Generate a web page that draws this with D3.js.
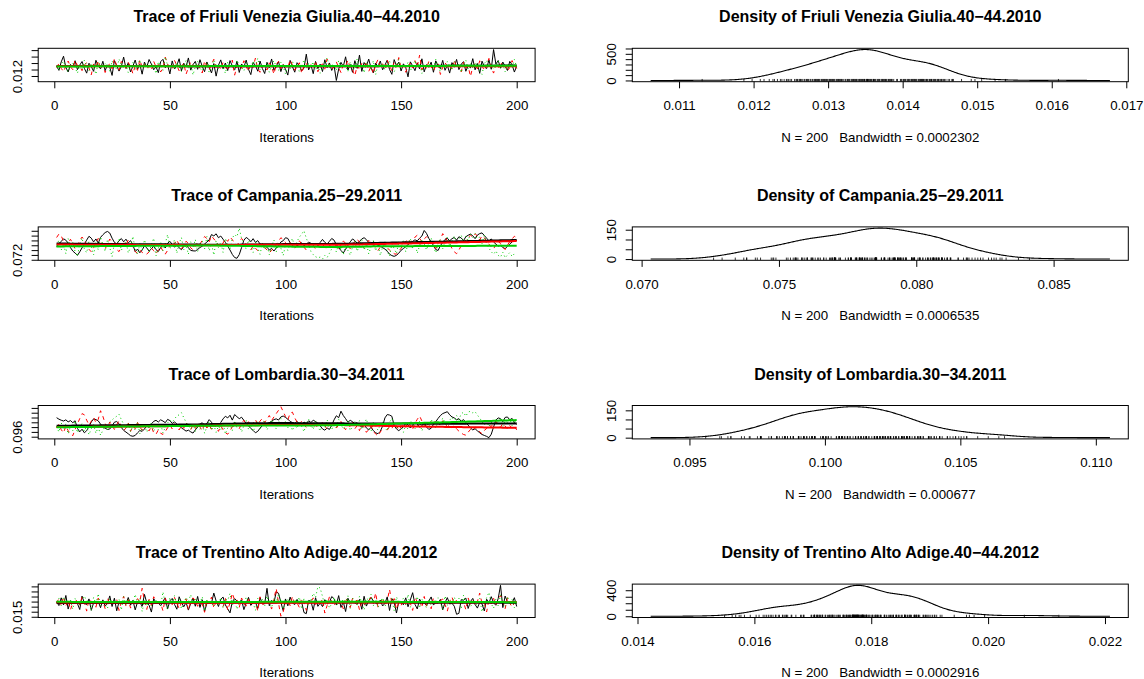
<!DOCTYPE html>
<html>
<head>
<meta charset="utf-8">
<script src="https://cdn.jsdelivr.net/npm/d3@7"></script>
<style>
  html, body { margin: 0; padding: 0; background: #ffffff; }
  svg { display: block; font-family: "Liberation Sans", Arial, Helvetica, sans-serif; }
</style>
</head>
<body>
<svg id="chart" width="1144" height="679"></svg>
<script>
// ---------------------------------------------------------------------------
// MCMC output: three chains of 200 iterations for each parameter.
// Chain values are stored in units of 1e-5.
// ---------------------------------------------------------------------------
const valueUnit = 1e-5;

const parameterNames = [
  "Friuli Venezia Giulia.40\u221244.2010",
  "Campania.25\u221229.2011",
  "Lombardia.30\u221234.2011",
  "Trentino Alto Adige.40\u221244.2012"
];

// Kernel bandwidths used for the density panels
const bandwidths = [0.0002302, 0.0006535, 0.000677, 0.0002916];

const friuliChain1 = [
1352,1287,1418,1506,1331,1263,1379,1341,1436,1298,
1368,1424,1319,1244,1397,1346,1272,1443,1357,1311,
1428,1283,1372,1335,1209,1439,1361,1276,1348,1492,
1317,1404,1262,1353,1447,1306,1381,1228,1415,1339,
1455,1384,1297,1342,1251,1421,1458,1326,1373,1232,
1433,1308,1364,1467,1279,1398,1343,1479,1291,1375,
1426,1303,1452,1349,1266,1417,1333,1247,1392,1198,
1366,1449,1312,1401,1284,1438,1355,1293,1427,1255,
1386,1337,1446,1302,1221,1409,1362,1274,1431,1316,
1238,1412,1328,1463,1289,1351,1423,1268,1377,1305,
1214,1441,1344,1259,1406,1358,1281,1323,1538,1294,
1371,1236,1425,1314,1383,1269,1451,1329,1402,1286,
1363,1131,1307,1411,1347,1497,1292,1378,1257,1437,
1318,1524,1271,1408,1354,1461,1324,1249,1399,1338,
1432,1296,1369,1444,1301,1226,1453,1359,1413,1277,
1388,1332,1187,1419,1356,1282,1403,1309,1466,1264,
1376,1334,1414,1258,1434,1352,1313,1442,1288,1367,
1245,1407,1336,1456,1299,1382,1422,1273,1361,1327,
1468,1295,1393,1241,1429,1345,1315,1448,1304,1609,
1385,1439,1321,1416,1349,1285,1426,1374,1261,1353];

const friuliChain2 = [
1334,1392,1318,1267,1356,1431,1341,1298,1447,1362,
1349,1283,1372,1403,1327,1218,1386,1345,1438,1309,
1366,1254,1337,1395,1312,1469,1351,1291,1425,1374,
1322,1408,1343,1236,1359,1287,1452,1331,1382,1304,
1353,1294,1427,1340,1378,1263,1316,1491,1384,1335,
1305,1441,1361,1279,1347,1397,1228,1329,1416,1368,
1342,1385,1317,1246,1433,1358,1296,1376,1459,1325,
1371,1302,1413,1338,1284,1364,1445,1213,1352,1391,
1319,1436,1346,1273,1389,1333,1478,1308,1257,1363,
1357,1292,1404,1344,1229,1379,1426,1315,1383,1339,
1326,1451,1368,1289,1348,1405,1241,1360,1394,1311,
1373,1321,1432,1266,1354,1387,1306,1464,1336,1299,
1345,1418,1328,1252,1381,1362,1443,1314,1296,1205,
1359,1301,1393,1337,1424,1271,1350,1234,1377,1454,
1332,1389,1307,1446,1364,1282,1412,1343,1485,1320,
1367,1258,1355,1399,1323,1437,1341,1522,1293,1375,
1313,1428,1346,1277,1361,1390,1224,1334,1406,1352,
1380,1297,1448,1338,1369,1262,1415,1327,1354,1193,
1342,1397,1310,1435,1357,1286,1366,1472,1329,1245,
1363,1304,1421,1348,1383,1274,1331,1439,1356,1317];

const friuliChain3 = [
1348,1296,1375,1429,1322,1261,1359,1401,1334,1242,
1366,1311,1443,1352,1284,1388,1339,1227,1417,1370,
1327,1395,1357,1274,1434,1344,1306,1462,1381,1319,
1362,1251,1338,1409,1299,1373,1448,1326,1391,1346,
1314,1385,1354,1236,1422,1341,1289,1496,1368,1330,
1377,1302,1411,1345,1268,1358,1439,1321,1392,1217,
1343,1427,1318,1281,1364,1398,1255,1336,1451,1372,
1308,1386,1350,1240,1414,1329,1367,1293,1445,1355,
1339,1276,1403,1361,1316,1432,1349,1474,1297,1378,
1324,1393,1257,1368,1436,1342,1288,1412,1353,1231,
1371,1305,1425,1337,1383,1264,1356,1449,1313,1396,
1347,1419,1291,1365,1243,1335,1407,1481,1328,1374,
1359,1285,1440,1320,1389,1352,1270,1416,1340,1301,
1466,1333,1379,1248,1408,1362,1310,1437,1221,1387,
1344,1398,1294,1370,1430,1327,1262,1357,1453,1315,
1380,1323,1415,1278,1351,1442,1336,1394,1239,1366,
1332,1404,1360,1292,1458,1346,1269,1376,1318,1423,
1354,1290,1428,1341,1385,1252,1369,1446,1307,1399,
1325,1410,1364,1280,1226,1391,1441,1345,1373,1303,
1349,1433,1316,1383,1265,1361,1402,1330,1455,1338];

const campaniaChain1 = [
7724,7853,7962,8067,8011,7886,7703,7561,7478,7382,
7527,7694,7848,8013,8172,8094,7938,8061,7883,8126,
8234,8327,8372,8305,8093,7921,7856,7984,8079,7943,
8052,7897,7991,7817,7533,7645,7489,7602,7781,7693,
7558,7651,7764,7617,7542,7706,7812,7688,7884,7963,
7831,7722,7805,7694,7618,7753,7842,7701,7587,7569,
7563,7624,7707,7761,7853,7932,8024,8243,8187,8274,
8113,8182,8051,7918,7762,7604,7421,7293,7262,7414,
7703,8006,8124,8058,7947,8073,7916,7993,7852,7801,
7784,7718,7603,7672,7561,7684,7793,7934,7987,8112,
8083,7902,7797,7853,7781,7836,7904,7778,7852,7923,
7884,7812,7873,7792,7918,8043,7921,7854,7963,8081,
8014,7823,7702,7583,7481,7632,7794,7941,8063,7992,
7883,7954,8062,8113,8034,7912,7853,7952,7873,7804,
7762,7703,7641,7552,7433,7372,7341,7383,7472,7594,
7663,7742,7821,7903,7962,8024,7983,8092,8184,8412,
8291,8083,7942,7793,7622,7583,7782,7923,8041,8094,
7983,8072,8124,8013,8152,8103,7992,8153,8214,8263,
8192,8073,8224,8283,8312,8203,8094,7983,8062,7934,
7853,7762,7803,7704,7663,7752,7853,7932,8043,7994];

const campaniaChain2 = [
8121,8263,8192,7964,7783,7902,8048,7861,7652,7791,
7993,8141,8012,7826,7634,7528,7706,7903,8083,7961,
7774,7652,7846,8057,7932,7813,7621,7537,7728,7904,
7832,8011,7883,7687,7541,7463,7592,7508,7442,7436,
7527,7681,7574,7451,7602,7743,7558,7433,7586,7762,
7938,7852,8026,7806,7653,7794,7967,7872,7694,7613,
7768,7922,7847,8004,8163,8072,7943,8184,8062,7951,
7824,7736,7893,8073,7962,8142,8034,7878,7806,7933,
8082,7981,7832,7714,7603,7772,7681,7576,7724,7863,
7712,7604,7497,7583,7742,7826,7973,8112,8041,7913,
7802,7921,7768,7674,7833,7984,7842,7721,7604,7773,
7906,7794,7643,7738,7892,7836,7726,7617,7762,7923,
7851,7753,7664,7812,7974,7887,7782,7654,7826,7962,
8053,7921,7806,7712,7858,8001,7906,7793,7684,7581,
7726,7884,7803,7702,7596,7518,7446,7432,7553,7678,
7842,7951,8062,7924,8013,8134,8217,8088,7946,8062,
8154,8043,7912,7786,7664,7871,8032,8282,8141,7978,
7836,7672,7531,7452,7603,7782,7906,8014,8127,8213,
8142,8276,8188,8023,8194,8112,7957,7846,7733,7652,
7824,7962,7871,7742,7623,7808,7946,8061,8173,8108];

const campaniaChain3 = [
7792,8013,7604,7866,7452,8074,7683,7921,7538,7344,
7847,8106,7652,7486,7973,7758,7402,7928,7611,8152,
7824,7543,8037,7701,7327,7893,7724,8083,7588,7806,
7962,7481,7742,8168,7636,7418,7872,7597,8024,7728,
7512,7836,8092,7364,7683,7947,7562,7868,8243,7674,
7761,8032,7473,7884,8121,7604,7812,7427,7942,7692,
8043,7542,7836,7983,7647,8162,7568,7873,7392,7991,
7712,7928,7503,8082,7782,7623,8098,8246,8152,8509,
8074,7891,7632,8012,7793,7502,7948,7684,7427,7882,
7614,7863,7412,7772,8021,7528,7917,7682,7373,7821,
7583,7852,8084,7697,7963,8136,8262,8402,8093,7846,
7542,7413,7328,7276,7312,7229,7384,7291,7468,7652,
7804,7521,7896,7628,7404,7838,7582,7387,7736,7962,
7548,7812,8046,7596,7884,7443,7752,8012,7563,7853,
7376,7724,7941,7557,7342,7862,7662,7452,7958,7711,
8004,7532,7826,8083,7654,7913,7468,7784,8052,7868,
7603,7908,8112,7742,7486,7893,8068,7652,7972,8142,
7764,7983,8186,7862,8047,8214,7936,8173,8002,8256,
8121,8283,7982,8156,7872,8218,7832,7682,7532,7426,
7568,7384,7306,7512,7283,7396,7497,7337,7452,7418];

const lombardiaChain1 = [
10392,10331,10287,10254,10303,10218,10272,10183,10264,9951,
9803,9912,9764,9852,10023,10214,10343,10312,10261,10124,
10013,9954,9902,9921,10053,10204,10232,10143,9984,9862,
9793,9721,9642,9618,9653,9762,9854,9823,9921,10064,
9993,10132,10241,10283,10212,10304,10253,10184,10322,10273,
10152,10213,10134,10062,9963,9904,9832,9873,9802,9751,
9884,9992,10123,10182,10083,10154,10312,10203,10042,10093,
10052,10194,10343,10452,10383,10494,10292,10524,10433,10352,
10412,10283,10152,10054,9943,9862,9764,9823,9953,10062,
10123,10084,10183,10242,10313,10344,10293,10424,10462,10403,
10333,10234,10192,10153,10243,10104,10063,10214,10143,10262,
10193,10284,10233,10162,10053,9924,9873,9962,9903,10072,
10302,10473,10392,10663,10483,10352,10203,10284,10223,10152,
10183,10074,10003,10114,9962,9883,9994,9852,9763,9724,
9822,10043,10384,10523,10503,10452,10064,9923,9852,9934,
10012,10163,10093,9962,10084,10203,10134,9993,10052,10173,
10004,9903,9952,10113,10224,10363,10482,10564,10603,10642,
10513,10424,10382,10303,10354,10243,10313,10192,10083,9964,
9883,9932,9843,9764,9692,9653,9612,9560,9703,10004,
10293,10384,10352,10223,10404,10423,10302,10363,10194,10113];

const lombardiaChain2 = [
9982,10123,9894,9763,10041,9852,9714,9643,9903,10132,
10354,10562,10513,10292,10093,10244,10403,10182,10324,10683,
10452,10153,9984,10213,10052,9903,10104,10263,10024,9862,
9953,10172,9823,10064,9932,10193,10003,9874,10112,9963,
9842,10024,9763,9702,9883,9743,9694,9812,9973,10092,
9923,10143,10012,9884,10063,9952,10184,10032,9893,10083,
9944,10113,10002,9853,10164,9962,10073,9913,10134,9983,
9824,10053,9892,9764,9703,9843,10014,10203,10082,9934,
10153,10284,10103,10224,10043,10172,10314,10093,10252,10363,
10194,10332,10483,10274,10423,10562,10703,10849,10652,10443,
10294,10583,10623,10384,10213,10092,10253,10134,9983,10124,
10043,10194,9942,10103,9984,10213,10064,9903,10152,10023,
10174,9963,10082,10234,10013,9892,10123,10004,10193,9932,
10063,9852,10114,9973,9782,9904,10043,9824,9713,9632,
9794,9943,10083,9872,10024,9933,10164,10053,9884,10012,
10133,9992,10214,10073,9914,10153,10324,10463,10254,10103,
9983,10124,10233,10092,10304,10183,10054,10263,10143,10012,
10114,9973,10063,9924,9832,9753,9692,9663,9784,9903,
9852,10003,9934,9803,9724,9863,9942,10083,10024,10173,
10243,10094,9993,10152,10043,9924,10063,9964,10032,9884];

const lombardiaChain3 = [
10024,9793,10183,9902,10132,9712,10043,9854,10264,9762,
9973,10154,9823,10073,9683,9934,10102,9743,10013,9664,
9863,10052,9893,10214,10303,10384,10453,10534,10312,10123,
9953,10143,9802,10064,9873,10194,9732,9962,10114,9784,
9983,10203,9833,10034,9894,10143,9752,9994,10174,10283,
10194,10343,10464,10513,10602,10393,10204,10053,9912,10132,
9823,10074,9904,10163,9744,10013,10233,9864,10092,9783,
10043,9882,10174,9712,9964,10123,9853,10262,9974,10153,
9793,10062,10284,9903,10113,9822,10034,10223,9932,10143,
10274,9883,10083,10312,10134,9924,10203,10354,10052,10243,
9963,10184,9852,10124,9943,10263,10023,9804,10164,10332,
10093,9903,10244,10024,9834,10154,9973,10303,10064,9882,
10183,9984,10323,10113,9914,10072,10254,9853,10043,10223,
10003,10274,9894,10123,10342,9963,9823,10184,10033,9873,
10094,10243,9983,9842,10204,10364,10083,9924,10183,10023,
9784,10102,9903,10273,10134,9932,10054,10244,9833,10114,
10213,10003,10324,10133,9954,10254,10073,10382,10184,9994,
10283,10422,10203,10483,10314,10552,10623,10453,10624,10663,
10594,10643,10503,10374,10233,10083,10264,10013,10204,10103,
10304,10153,10383,10024,10263,10194,10353,10064,10283,10172];

const trentinoChain1 = [
1796,1721,1874,1733,1921,1652,1817,1778,1769,1762,
1643,1908,1771,1738,1853,1627,1776,1784,1806,1679,
1834,1712,1759,1912,1703,1867,1618,1792,1803,1771,
1752,1881,1729,1823,1636,1791,1787,1707,1942,1777,
1729,1593,1857,1784,1776,1716,1808,1873,1654,1815,
1862,1744,1649,1895,1786,1697,1783,1632,1761,1866,
1708,1902,1685,1836,1608,1763,1765,1772,1968,1812,
1703,1846,1889,1733,1657,1577,1798,1859,1808,1791,
1831,1641,1769,1883,1725,1779,1792,1663,1878,1757,
1757,2062,1717,1823,1774,1994,1963,1786,1621,1852,
1716,1889,1774,1741,1843,1752,1788,1583,1562,1822,
1808,1629,1876,1706,1772,1701,1838,1767,1785,1899,
1857,1734,1918,1684,1796,1603,1866,1775,1781,1773,
1747,1842,1648,1905,1711,1816,1881,1811,1769,1758,
1829,1713,1764,1893,1624,1857,1789,1574,1802,1786,
1736,1874,1698,1833,1976,1746,1655,1849,1768,1777,
1722,1811,1892,1731,1782,1769,1843,1637,1779,1878,
1752,1768,1709,1549,1568,1838,1826,1869,1664,1801,
1863,1743,1671,1785,1754,1615,1847,1770,1897,1776,
1727,1859,2121,1681,1909,1793,1779,1774,1877,1703];

const trentinoChain2 = [
1768,1862,1718,1893,1714,1826,1637,1781,1791,1849,
1731,1887,1779,1612,1838,1807,1776,1689,1868,1757,
1812,1659,1874,1745,1784,1772,1845,1624,1786,1903,
1712,1836,1671,1773,1754,1858,1794,2063,1804,1645,
1843,1726,1896,1817,1788,1772,1617,1864,1739,1822,
1739,1881,1766,1662,1779,1797,1852,1638,1797,1873,
1821,1707,1772,1751,1589,1839,1765,1889,1674,1806,
1748,1785,1697,1861,1631,1774,1966,1824,1836,1684,
1871,1757,1715,1846,1769,1778,1792,1614,1894,1749,
1735,1790,1781,1652,1856,2058,1764,1510,1596,1773,
1834,1721,1901,1757,1775,1683,1862,1796,1627,1813,
1793,1873,1742,1783,1762,1849,1573,1723,1895,1811,
1709,1843,1764,1777,1658,1878,1780,1682,1866,1798,
1829,1637,1786,1728,1815,1809,1889,1761,1972,1692,
1754,1871,1717,1807,2041,1768,1858,1648,1774,1722,
1844,1737,1781,1768,1626,1884,1793,1827,1683,1901,
1711,1816,1658,1876,1762,1787,1819,1851,1739,1612,
1803,1892,1744,1833,1773,1789,1786,1641,1872,1737,
1856,1724,1798,1968,1767,1780,1596,1839,1754,1867,
1733,1847,1921,1804,1659,1876,1769,1694,1776,1808];

const trentinoChain3 = [
1797,1871,1714,1893,1788,1779,1812,1649,1857,1756,
1736,1842,1909,1812,1803,1622,1884,1753,1956,1708,
1828,1723,1664,1866,1772,1776,1793,1847,1633,1897,
1741,1858,1792,1768,1943,1751,1873,1604,1818,1706,
1846,1708,1774,1806,1829,1714,1992,1773,1641,1879,
1758,1916,1729,1839,1656,1782,1886,1795,1938,1747,
1862,1746,1764,1897,1615,1833,1789,1771,1699,1808,
1719,1881,1671,1853,1821,1962,1712,1838,1647,1769,
1816,1734,1893,1792,1778,1776,1628,1869,1749,1846,
1711,1908,1757,1681,1862,1772,1949,1822,1661,1767,
1843,1743,1775,1816,1808,1889,1653,1856,1744,1721,
1824,1962,1881,2094,2067,1902,1726,1837,1672,1762,
1891,1716,1784,1771,1848,1751,1913,1664,1872,1769,
1738,1904,1783,1635,1866,1827,1941,1718,1845,1681,
1788,1879,1706,1789,1759,1858,1619,1896,1772,1783,
1867,1732,1942,1689,1831,1773,1902,1671,1849,1764,
1675,1853,1721,1780,1814,1875,1781,1643,1911,1728,
1841,1747,1888,1761,1869,1658,1926,1785,1835,1696,
1778,1772,1729,1861,1598,1747,1878,1983,1758,1666,
1853,1713,1933,1786,1709,1903,1791,1842,1683,1817];

// Chain styling: solid black, dashed red, dotted green
const chainColors = ["#000000", "#FF0000", "#00CD00"];
const chainDashes = [null, "4,4", "1,3"];

// ---------------------------------------------------------------------------
// Layout
// ---------------------------------------------------------------------------
const W = 1144, H = 679;
const firstBoxTop = 48.3, rowPitch = 178.6, boxH = 33.4;
const traceLeft = 38.2, traceRight = 535.1;
const densLeft = 632.3, densRight = 1128.3;
const fontSize = 13.3, titleSize = 16, tickLen = 6.6;

const svg = d3.select("#chart");
svg.append("rect").attr("width", W).attr("height", H).attr("fill", "#ffffff");

// Locally weighted regression smoother (lowess, f = 2/3, 3 robustness steps)
function lowess(xs, ys, f = 2 / 3, iter = 3) {
  const n = xs.length;
  const ns = Math.max(2, Math.min(n, Math.floor(f * n + 1e-7)));
  let rw = new Array(n).fill(1);
  let fit = new Array(n).fill(0);
  for (let it = 0; it <= iter; it++) {
    for (let i = 0; i < n; i++) {
      const dist = xs.map(x => Math.abs(x - xs[i]));
      const h = dist.slice().sort((a, b) => a - b)[ns - 1];
      let sw = 0, sx = 0, sy = 0, sxx = 0, sxy = 0;
      for (let j = 0; j < n; j++) {
        const r = h > 0 ? dist[j] / h : 0;
        if (r >= 1) continue;
        const w = Math.pow(1 - r * r * r, 3) * rw[j];
        sw += w; sx += w * xs[j]; sy += w * ys[j];
        sxx += w * xs[j] * xs[j]; sxy += w * xs[j] * ys[j];
      }
      const mx = sx / sw, my = sy / sw;
      const vx = sxx / sw - mx * mx;
      const b = vx > 1e-12 ? (sxy / sw - mx * my) / vx : 0;
      fit[i] = my + b * (xs[i] - mx);
    }
    if (it === iter) break;
    const res = ys.map((y, i) => y - fit[i]);
    const cmad = 6 * d3.median(res.map(Math.abs));
    rw = res.map(r => {
      const u = Math.abs(r) / cmad;
      return u < 1 ? Math.pow(1 - u * u, 2) : 0;
    });
  }
  return fit;
}

// Gaussian kernel density on 512 grid points over [min - 3bw, max + 3bw]
function kde(values, bw) {
  const lo = d3.min(values) - 3 * bw, hi = d3.max(values) + 3 * bw;
  const grid = d3.range(512).map(i => lo + (hi - lo) * i / 511);
  const c = 1 / (values.length * bw * Math.sqrt(2 * Math.PI));
  return grid.map(x => [x, c * d3.sum(values, v => Math.exp(-0.5 * ((x - v) / bw) ** 2))]);
}

// Width of "m": minimum spacing between neighbouring tick labels
const probe = svg.append("text").style("font-size", fontSize + "px").text("m");
const gapM = probe.node().getComputedTextLength();
probe.remove();

function styleAxis(g) {
  g.attr("font-size", null).attr("font-family", null);
  g.select(".domain").remove();
  g.selectAll(".tick line").attr("stroke", "#000");
  g.selectAll(".tick text").attr("fill", "#000").style("font-size", fontSize + "px");
}

// Drop labels that would overlap the previously drawn one
function thinLabels(g, scale, vertical) {
  let lastEnd = -Infinity;
  g.selectAll(".tick").each(function (d) {
    const t = d3.select(this).select("text");
    const w = t.node().getComputedTextLength();
    const p = vertical ? -scale(d) : scale(d);
    if (p - w / 2 >= lastEnd + gapM) lastEnd = p + w / 2;
    else t.remove();
  });
}

function drawXAxis(g, scale, y) {
  const ax = g.append("g").attr("transform", `translate(0,${y})`)
    .call(d3.axisBottom(scale).ticks(5).tickSize(tickLen).tickSizeOuter(0));
  styleAxis(ax);
  ax.selectAll(".tick text").attr("y", 28.6).attr("dy", 0);
  thinLabels(ax, scale, false);
}

function drawYAxis(g, scale, x) {
  const ax = g.append("g").attr("transform", `translate(${x},0)`)
    .call(d3.axisLeft(scale).ticks(5).tickSize(tickLen).tickSizeOuter(0));
  styleAxis(ax);
  ax.selectAll(".tick text")
    .attr("x", 0).attr("y", 0).attr("dy", 0)
    .attr("text-anchor", "middle")
    .attr("transform", "translate(-16.7,0) rotate(-90)");
  thinLabels(ax, scale, true);
}

function padded(lo, hi) {
  const d = (hi - lo) * 0.04;
  return [lo - d, hi + d];
}

const allChains = [
  [friuliChain1, friuliChain2, friuliChain3],
  [campaniaChain1, campaniaChain2, campaniaChain3],
  [lombardiaChain1, lombardiaChain2, lombardiaChain3],
  [trentinoChain1, trentinoChain2, trentinoChain3]
];

allChains.forEach((chainsRaw, r) => {
  const chains = chainsRaw.map(c => c.map(v => v * valueUnit));
  const niter = chains[0].length;
  const iters = d3.range(1, niter + 1);
  const top = firstBoxTop + r * rowPitch, bottom = top + boxH;

  // ---------------- Trace panel ----------------
  const gT = svg.append("g");
  const pooled = chains.flat();
  const x = d3.scaleLinear().domain(padded(1, niter)).range([traceLeft, traceRight]);
  const y = d3.scaleLinear().domain(padded(d3.min(pooled), d3.max(pooled))).range([bottom, top]);

  const line = d3.line().x((d, i) => x(i + 1)).y(d => y(d));
  chains.forEach((c, k) => {
    const p = gT.append("path").datum(c).attr("d", line)
      .attr("fill", "none").attr("stroke", chainColors[k]).attr("stroke-width", 1);
    if (chainDashes[k]) p.attr("stroke-dasharray", chainDashes[k]);
  });
  chains.forEach((c, k) => {
    const sm = lowess(iters, c);
    gT.append("path").datum(sm)
      .attr("d", d3.line().x((d, i) => x(iters[i])).y(d => y(d)))
      .attr("fill", "none").attr("stroke", chainColors[k]).attr("stroke-width", 2);
  });

  gT.append("rect").attr("x", traceLeft).attr("y", top)
    .attr("width", traceRight - traceLeft).attr("height", boxH)
    .attr("fill", "none").attr("stroke", "#000").attr("stroke-width", 1);
  drawXAxis(gT, x, bottom);
  drawYAxis(gT, y, traceLeft);

  gT.append("text").attr("x", (traceLeft + traceRight) / 2).attr("y", top - 25.9)
    .attr("text-anchor", "middle").style("font-size", titleSize + "px").style("font-weight", "bold")
    .text("Trace of " + parameterNames[r]);
  gT.append("text").attr("x", (traceLeft + traceRight) / 2).attr("y", bottom + 59.8)
    .attr("text-anchor", "middle").style("font-size", fontSize + "px")
    .text("Iterations");

  // ---------------- Density panel ----------------
  const gD = svg.append("g");
  const bw = bandwidths[r];
  const dens = kde(pooled, bw);
  const maxD = d3.max(dens, d => d[1]);
  const xd = d3.scaleLinear().domain(padded(dens[0][0], dens[dens.length - 1][0])).range([densLeft, densRight]);
  const yd = d3.scaleLinear().domain(padded(0, maxD)).range([bottom, top]);

  gD.append("path").datum(dens)
    .attr("d", d3.line().x(d => xd(d[0])).y(d => yd(d[1])))
    .attr("fill", "none").attr("stroke", "#000").attr("stroke-width", 1.1);

  // Observations of the first chain shown as short ticks on the baseline
  gD.append("g").selectAll("line").data(chains[0]).join("line")
    .attr("x1", d => xd(d)).attr("x2", d => xd(d))
    .attr("y1", yd(0) + 1).attr("y2", yd(0) - 1.5)
    .attr("stroke", "#000").attr("stroke-width", 0.8);

  gD.append("rect").attr("x", densLeft).attr("y", top)
    .attr("width", densRight - densLeft).attr("height", boxH)
    .attr("fill", "none").attr("stroke", "#000").attr("stroke-width", 1);
  drawXAxis(gD, xd, bottom);
  drawYAxis(gD, yd, densLeft);

  gD.append("text").attr("x", (densLeft + densRight) / 2).attr("y", top - 25.9)
    .attr("text-anchor", "middle").style("font-size", titleSize + "px").style("font-weight", "bold")
    .text("Density of " + parameterNames[r]);
  gD.append("text").attr("x", (densLeft + densRight) / 2).attr("y", bottom + 59.8)
    .attr("text-anchor", "middle").style("font-size", fontSize + "px").style("white-space", "pre")
    .text(`N = ${niter}   Bandwidth = ${bw}`);
});
</script>
</body>
</html>
